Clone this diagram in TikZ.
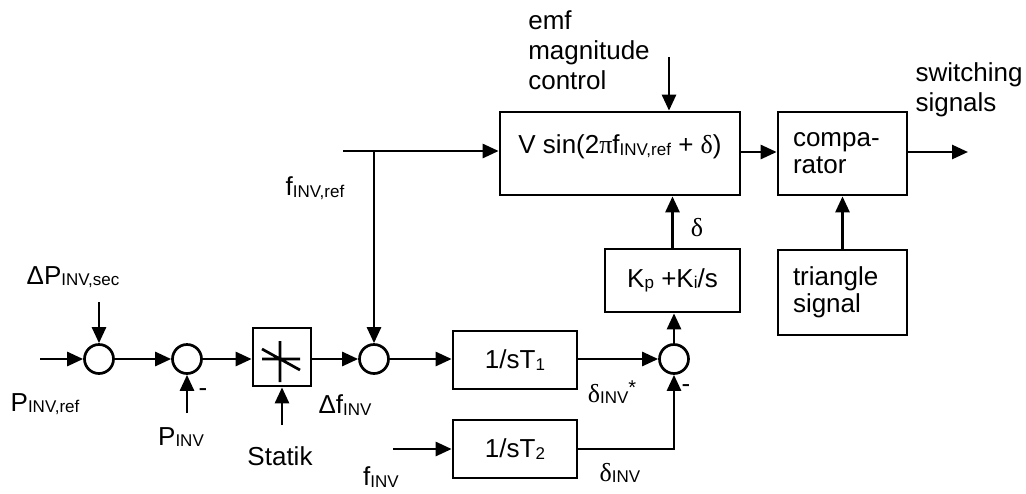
\documentclass[tikz,border=0pt]{standalone}
\usepackage{fontspec}
\setmainfont{Liberation Sans}
\newfontfamily\griego{Liberation Serif}
\usetikzlibrary{arrows.meta, positioning, calc}
\newcommand{\ind}[1]{\raisebox{-0.8pt}{\fontsize{8.5}{9}\selectfont #1}}
\newcommand{\gd}{{\griego δ}}
\tikzset{
  bloque/.style={rectangle, draw, line width=1.35pt, inner sep=0pt, align=center},
  bloqizq/.style={rectangle, draw, line width=1.35pt, inner sep=7.5pt, text width=49.5pt,
                  align=left, font=\fontsize{13}{13.5}\selectfont},
  suma/.style={circle, draw, line width=1.35pt, minimum size=14.5pt, inner sep=0pt},
  flecha/.style={-{Triangle[length=8pt,width=7pt]}, line width=1.35pt},
  etiq/.style={inner sep=0pt, align=left}
}

\begin{document}
\begin{tikzpicture}[x=0.5pt, y=-0.5pt, font=\fontsize{13}{15}\selectfont]
    \useasboundingbox (0,0) rectangle (1026,493);
    \node[suma] (sA) at (99,359) {};
    \node[suma] (sB) at (187,359) {};
    \node[bloque, minimum width=29pt, minimum height=29pt] (statik) at (282,357) {};
    \draw[line width=1.35pt, shift={(statik.center)}]
      (-20,2) -- (18,2) (-2,-16) -- (-2,25) (-20,-8) -- (18,13);
    \node[suma] (sC) at (374,359) {};
    \node[bloque, minimum width=62pt, minimum height=29pt] (T1) at (515,360) {1/sT\ind{1}};
    \node[bloque, minimum width=62pt, minimum height=29pt] (T2) at (515,449) {1/sT\ind{2}};
    \node[suma] (sD) at (674,359) {};
    \node[bloque, minimum width=67.5pt, minimum height=31.5pt] (pi) at (672.5,280.5)
      {K\ind{p} +K\ind{i}/s};
    \node[bloque, minimum width=120pt, minimum height=41.5pt] (vsin) at (620,153.5)
      {V sin(2{\griego π}f\ind{INV,ref} + \gd)\\[-10pt] \strut};
    \node[bloqizq, minimum height=41.5pt] (comp) at (842.5,153.5) {compa-\\rator};
    \node[bloqizq, minimum height=42.5pt] (tri) at (842.5,292.5) {triangle\\signal};

    \coordinate (inA) at (40,359);
    \coordinate (inSec) at (99,302);
    \coordinate (inP) at (187,413);
    \coordinate (inStat) at (282,425);
    \coordinate (fref) at (343,151);
    \coordinate (inT2) at (393,449);
    \coordinate (emf) at (669,57);
    \coordinate (sal) at (968,152);

    \node[etiq] (lsec) at (73,277) {ΔP\ind{INV,sec}};
    \node[etiq] (lref) at (45,404) {P\ind{INV,ref}};
    \node[etiq] (lmenosB) at (203,393) {-};
    \node[etiq] (lpinv) at (181,437) {P\ind{INV}};
    \node[etiq] (lstatik) at (280,456) {Statik};
    \node[etiq] (ldf) at (345,405) {Δf\ind{INV}};
    \node[etiq] (lfinv) at (381,477) {f\ind{INV}};
    \node[etiq] (lfref) at (315,188) {f\ind{INV,ref}};
    \node[etiq] (ldstar) at (612,392) {\gd\ind{INV}\raisebox{4pt}{\fontsize{10}{10}\selectfont *}};
    \node[etiq] (lmenosD) at (686,389) {-};
    \node[etiq] (ldinv) at (620,473) {\gd\ind{INV}};
    \node[etiq] (ldelta) at (697,228) {\gd};
    \node[etiq] (lemf) at (589,50) {emf\\magnitude\\control};
    \node[etiq] (lsw) at (969,90) {switching\\signals};

    \draw[flecha] (inA) -- (sA.west);
    \draw[flecha] (inSec) -- (sA.north);
    \draw[flecha] (sA) -- (sB);
    \draw[flecha] (inP) -- (sB.south);
    \draw[flecha] (sB) -- (statik.west |- sB);
    \draw[flecha] (inStat) -- (statik.south);
    \draw[flecha] (statik.east |- sC) -- (sC.west);
    \draw[flecha] (fref) -- (fref -| vsin.west);
    \draw[flecha] (fref -| sC) -- (sC.north);
    \draw[flecha] (sC) -- (T1.west |- sC);
    \draw[flecha] (T1.east |- sD) -- (sD.west);
    \draw[flecha] (inT2) -- (T2.west);
    \draw[flecha] (T2.east) -| (sD.south);
    \draw[flecha] (sD.north) -- (sD.north |- pi.south);
    \draw[flecha] (pi.north) -- (pi.north |- vsin.south);
    \draw[flecha] (emf) -- (emf |- vsin.north);
    \draw[flecha] (vsin.east |- sal) -- (comp.west |- sal);
    \draw[flecha] (comp.east |- sal) -- (sal);
    \draw[flecha] (tri.north) -- (comp.south);
\end{tikzpicture}
\end{document}
